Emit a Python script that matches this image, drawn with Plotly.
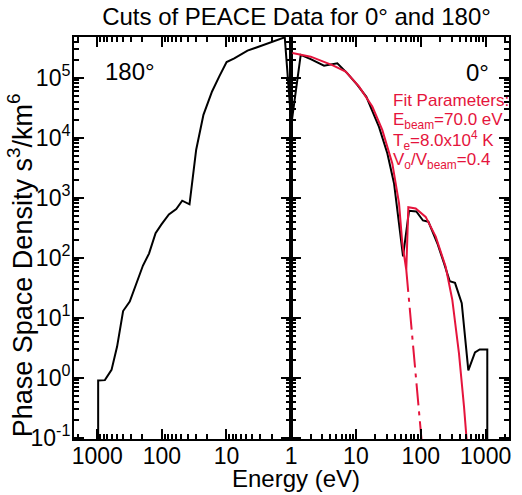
import plotly.graph_objects as go

# ---------------- data ----------------
# 180 degree cut (left panel, energy axis reversed)
e180 = [968, 968, 762, 601, 493, 398, 314, 234, 196, 158, 125, 102, 77.8, 59.8,
        48.4, 37.3, 29.4, 22.7, 16.7, 12.9, 9.94, 7.56, 4.72, 1.25, 0.98]
f180 = [0.01, 0.9, 0.91, 1.35, 3.3, 12.9, 18.6, 42.7, 74, 117, 257, 355, 525, 646,
        891, 776, 6310, 24000, 58900, 105000, 182000, 209000, 282000, 470000, 15100]

# 0 degree cut (right panel)
e0 = [0.9, 1.0, 1.41, 2.01, 3.23, 4.09, 5.17, 7.38, 10.5, 14.5, 22.7, 30.5, 38.7,
      53.3, 65.9, 85.4, 108, 131, 180, 228, 279, 337, 428, 541, 685, 810, 1060, 1060]
f0 = [500000, 15100, 240000, 204000, 158000, 166000, 174000, 118000, 75900, 47900,
      15100, 5500, 1740, 105, 603, 589, 417, 398, 174, 81, 40.7, 38, 17.4, 1.32,
      2.63, 2.95, 2.95, 0.01]

# fit (solid)
efit = [1.05, 2.01, 4.33, 6.97, 11.2, 17.9, 25.5, 36.4, 46.2, 51.9, 59.8, 64.3,
        83.5, 119, 170, 242, 306, 388, 464, 520]
ffit = [257000, 224000, 162000, 126000, 70800, 33000, 13500, 3720, 813, 174, 62.6,
        692, 661, 479, 224, 70.8, 19.9, 2.55, 0.33, 0.07]

# fit continuation without beam (dash-dot)
ecore = [59.8, 104]
fcore = [62.6, 0.08]

ytick_vals = [0.1, 1, 10, 100, 1000, 10000, 100000]
ytick_text = ["10<sup>-1</sup>", "10<sup>0</sup>", "10<sup>1</sup>", "10<sup>2</sup>",
              "10<sup>3</sup>", "10<sup>4</sup>", "10<sup>5</sup>"]
xl_vals = [1000, 100, 10]
xl_text = ["1000", "100", "10"]
xr_vals = [1, 10, 100, 1000]
xr_text = ["1", "10", "100", "1000"]

title_text = "Cuts of PEACE Data for 0° and 180°"
ytitle_text = "Phase Space Density s<sup>3</sup>/km<sup>6</sup>"
xtitle_text = "Energy (eV)"
fit_lines = ["Fit Parameters:",
             "E<sub>beam</sub>=70.0 eV",
             "T<sub>e</sub>=8.0x10<sup>4</sup> K",
             "V<sub>o</sub>/V<sub>beam</sub>=0.4"]

# ---------------- figure ----------------
FONT = "Liberation Sans, Arial, sans-serif"
RED = "#e5143c"

minor_x = [m * 10 ** d for d in range(0, 4) for m in range(2, 10)]
minor_y = [m * 10.0 ** d for d in range(-1, 6) for m in range(2, 10)]

fig = go.Figure()
fig.add_trace(go.Scatter(x=e180, y=f180, mode="lines", xaxis="x", yaxis="y",
                         line=dict(color="black", width=2)))
fig.add_trace(go.Scatter(x=e0, y=f0, mode="lines", xaxis="x2", yaxis="y2",
                         line=dict(color="black", width=2)))
fig.add_trace(go.Scatter(x=efit, y=ffit, mode="lines", xaxis="x2", yaxis="y2",
                         line=dict(color=RED, width=2)))
fig.add_trace(go.Scatter(x=ecore, y=fcore, mode="lines", xaxis="x2", yaxis="y2",
                         line=dict(color=RED, width=2, dash="22px,6px,4px,6px")))

axis_common = dict(showline=True, linecolor="black", linewidth=2, mirror="ticks",
                   ticks="inside", ticklen=10, tickwidth=1.5, tickcolor="black",
                   showgrid=False, zeroline=False,
                   tickfont=dict(family=FONT, size=23, color="black"))

DIV = 0.4989
fig.update_layout(
    width=522, height=495,
    margin=dict(l=74, r=11, t=37, b=56),
    plot_bgcolor="white", paper_bgcolor="white",
    showlegend=False,
    font=dict(family=FONT, color="black"),
    xaxis=dict(type="log", domain=[0, DIV], range=[3.36, 0], anchor="y",
               tickmode="array", tickvals=xl_vals, ticktext=xl_text,
               ticklabelstandoff=-5,
               minor=dict(ticks="inside", ticklen=5, tickwidth=1.5, tickcolor="black",
                          tickmode="array", tickvals=minor_x),
               **axis_common),
    xaxis2=dict(type="log", domain=[DIV, 1], range=[0, 3.36], anchor="y2",
                tickmode="array", tickvals=xr_vals, ticktext=xr_text,
                ticklabelstandoff=-5,
                minor=dict(ticks="inside", ticklen=5, tickwidth=1.5, tickcolor="black",
                           tickmode="array", tickvals=minor_x),
                **axis_common),
    yaxis=dict(type="log", range=[-1.022, 5.678], anchor="x",
               tickmode="array", tickvals=ytick_vals, ticktext=ytick_text,
               ticklabelstandoff=-3,
               minor=dict(ticks="inside", ticklen=5, tickwidth=1.5, tickcolor="black",
                          tickmode="array", tickvals=minor_y),
               **axis_common),
    yaxis2=dict(type="log", range=[-1.022, 5.678], anchor="x2", showticklabels=False,
                tickmode="array", tickvals=ytick_vals,
                minor=dict(ticks="inside", ticklen=5, tickwidth=1.5, tickcolor="black",
                           tickmode="array", tickvals=minor_y),
                **axis_common),
    title=dict(text=title_text, x=296.5 / 522, xanchor="center", xref="container",
               y=1 - 17 / 495, yanchor="middle", yref="container",
               font=dict(family=FONT, size=24, color="black")),
)

annotations = [
    dict(text=ytitle_text, textangle=-90, x=(20 - 74) / 437, y=(439 - 265) / 402,
         xref="paper", yref="paper", xanchor="center", yanchor="middle",
         showarrow=False, font=dict(family=FONT, size=27, color="black")),
    dict(text=xtitle_text, x=(297 - 74) / 437, y=(439 - 478) / 402,
         xref="paper", yref="paper", xanchor="center", yanchor="middle",
         showarrow=False, font=dict(family=FONT, size=24, color="black")),
    dict(text="180°", x=(103 - 74) / 437, y=(439 - 71.5) / 402,
         xref="paper", yref="paper", xanchor="left", yanchor="middle",
         showarrow=False, font=dict(family=FONT, size=24, color="black")),
    dict(text="0°", x=(493 - 74) / 437, y=(439 - 72.5) / 402,
         xref="paper", yref="paper", xanchor="right", yanchor="middle",
         showarrow=False, font=dict(family=FONT, size=24, color="black")),
]
for i, line in enumerate(fit_lines):
    yb = 106.7 + 20 * i - 6
    annotations.append(dict(text=line, x=(392 - 74) / 437, y=(439 - yb) / 402,
                            xref="paper", yref="paper", xanchor="left", yanchor="middle",
                            showarrow=False,
                            font=dict(family=FONT, size=17, color=RED)))
fig.update_layout(annotations=annotations)

fig.write_html("out.html")
